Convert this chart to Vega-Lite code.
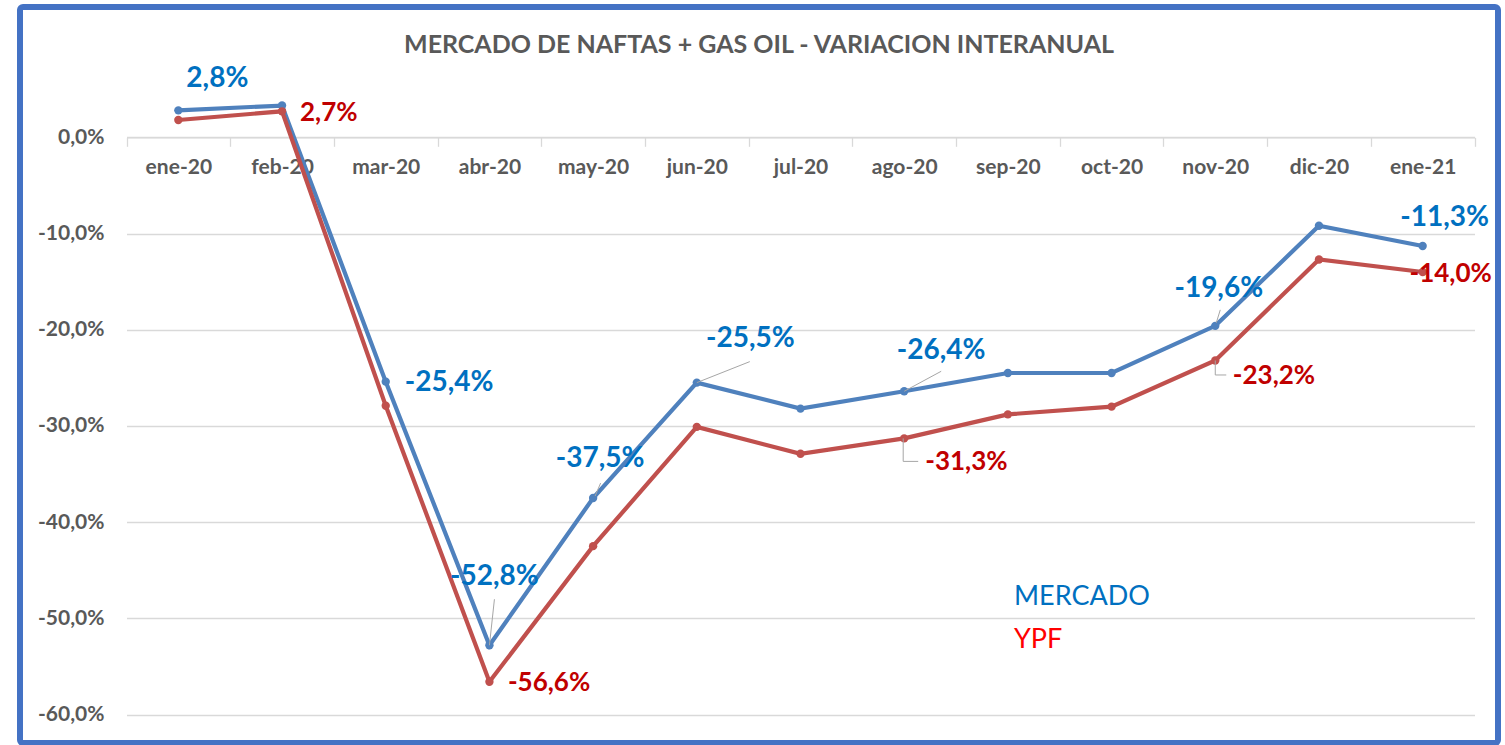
{
  "$schema": "https://vega.github.io/schema/vega-lite/v6.json",
  "width": 1478,
  "height": 736,
  "autosize": {"type": "none"},
  "padding": {"left": 20, "top": 7, "right": 7, "bottom": 2},
  "background": "white",
  "config": {
    "locale": {"number": {"decimal": ",", "thousands": ".", "grouping": [3], "currency": ["", " €"], "minus": "-", "percent": "%"}},
    "view": {"stroke": "#4472c4", "strokeWidth": 6, "fill": "white", "cornerRadius": 3},
    "legend": {"padding": 0}
  },
  "title": {
    "text": "MERCADO DE NAFTAS + GAS OIL - VARIACION INTERANUAL",
    "font": "Lato", "fontSize": 25, "fontWeight": "bold", "color": "#595959",
    "anchor": "middle", "frame": "group", "offset": -63, "baseline": "middle"
  },
  "data": {
    "values": [
      {"month": "ene-20", "series": "MERCADO", "value": 0.028},
      {"month": "feb-20", "series": "MERCADO", "value": 0.033},
      {"month": "mar-20", "series": "MERCADO", "value": -0.254},
      {"month": "abr-20", "series": "MERCADO", "value": -0.528},
      {"month": "may-20", "series": "MERCADO", "value": -0.375},
      {"month": "jun-20", "series": "MERCADO", "value": -0.255},
      {"month": "jul-20", "series": "MERCADO", "value": -0.282},
      {"month": "ago-20", "series": "MERCADO", "value": -0.264},
      {"month": "sep-20", "series": "MERCADO", "value": -0.245},
      {"month": "oct-20", "series": "MERCADO", "value": -0.245},
      {"month": "nov-20", "series": "MERCADO", "value": -0.196},
      {"month": "dic-20", "series": "MERCADO", "value": -0.092},
      {"month": "ene-21", "series": "MERCADO", "value": -0.113},
      {"month": "ene-20", "series": "YPF", "value": 0.018},
      {"month": "feb-20", "series": "YPF", "value": 0.027},
      {"month": "mar-20", "series": "YPF", "value": -0.279},
      {"month": "abr-20", "series": "YPF", "value": -0.566},
      {"month": "may-20", "series": "YPF", "value": -0.425},
      {"month": "jun-20", "series": "YPF", "value": -0.301},
      {"month": "jul-20", "series": "YPF", "value": -0.329},
      {"month": "ago-20", "series": "YPF", "value": -0.313},
      {"month": "sep-20", "series": "YPF", "value": -0.288},
      {"month": "oct-20", "series": "YPF", "value": -0.28},
      {"month": "nov-20", "series": "YPF", "value": -0.232},
      {"month": "dic-20", "series": "YPF", "value": -0.127},
      {"month": "ene-21", "series": "YPF", "value": -0.14}
    ]
  },
  "encoding": {
    "x": {
      "field": "month", "type": "nominal",
      "scale": {"type": "band", "domain": ["ene-20","feb-20","mar-20","abr-20","may-20","jun-20","jul-20","ago-20","sep-20","oct-20","nov-20","dic-20","ene-21"], "range": [106.5, 1454.5], "paddingInner": 0, "paddingOuter": 0},
      "axis": {
        "title": null, "orient": "bottom", "offset": -605.7, "labelAngle": 0,
        "labelFont": "Lato", "labelFontSize": 21, "labelFontWeight": "bold", "labelColor": "#595959",
        "labelBaseline": "middle", "labelPadding": 21,
        "tickBand": "extent", "tickSize": 9, "tickColor": "#d9d9d9", "tickWidth": 1.3,
        "domainColor": "#d9d9d9", "domainWidth": 1.3, "grid": false
      }
    },
    "y": {
      "field": "value", "type": "quantitative",
      "scale": {"domain": [-0.6, 0], "range": [707.5, 130.3], "nice": false, "zero": false},
      "axis": {
        "title": null, "values": [0, -0.1, -0.2, -0.3, -0.4, -0.5, -0.6], "format": ".1%",
        "offset": -106.5, "domain": false, "ticks": false, "tickSize": 0, "labelPadding": 22.5,
        "labelFont": "Lato", "labelFontSize": 21, "labelFontWeight": "bold", "labelColor": "#595959",
        "grid": true, "gridColor": "#d9d9d9", "gridWidth": 1.3
      }
    }
  },
  "layer": [
    {
      "mark": {"type": "line", "strokeWidth": 4.2, "point": {"size": 70, "filled": true, "opacity": 1}},
      "encoding": {
        "color": {
          "field": "series", "type": "nominal",
          "scale": {"domain": ["MERCADO", "YPF"], "range": ["#4f81bd", "#c0504d"]},
          "legend": {
            "orient": "none", "legendX": 967, "legendY": 576, "title": null, "direction": "vertical",
            "symbolOpacity": 0, "symbolSize": 0, "symbolStrokeWidth": 0,
            "labelFont": "Lato", "labelFontSize": 27, "labelLimit": 0, "labelOffset": 0, "rowPadding": 15.5,
            "encode": {"labels": {"update": {"fill": {"signal": "datum.label === 'MERCADO' ? '#0070c0' : '#ff0000'"}}}}
          }
        }
      }
    },
    {
      "transform": [{"filter": "datum.month === 'abr-20' && datum.series === 'MERCADO'"}],
      "mark": {"type": "rule", "color": "#a6a6a6", "strokeWidth": 1, "x2Offset": 5, "y2Offset": -46},
      "encoding": {"x2": {"field": "month"}, "y2": {"field": "value"}}
    },
    {
      "transform": [{"filter": "datum.month === 'may-20' && datum.series === 'MERCADO'"}],
      "mark": {"type": "rule", "color": "#a6a6a6", "strokeWidth": 1, "xOffset": 2, "yOffset": -2, "x2Offset": 7.5, "y2Offset": -15},
      "encoding": {"x2": {"field": "month"}, "y2": {"field": "value"}}
    },
    {
      "transform": [{"filter": "datum.month === 'jun-20' && datum.series === 'MERCADO'"}],
      "mark": {"type": "rule", "color": "#a6a6a6", "strokeWidth": 1, "x2Offset": 53, "y2Offset": -21},
      "encoding": {"x2": {"field": "month"}, "y2": {"field": "value"}}
    },
    {
      "transform": [{"filter": "datum.month === 'ago-20' && datum.series === 'MERCADO'"}],
      "mark": {"type": "rule", "color": "#a6a6a6", "strokeWidth": 1, "x2Offset": 37, "y2Offset": -20},
      "encoding": {"x2": {"field": "month"}, "y2": {"field": "value"}}
    },
    {
      "transform": [{"filter": "datum.month === 'nov-20' && datum.series === 'MERCADO'"}],
      "mark": {"type": "rule", "color": "#a6a6a6", "strokeWidth": 1, "xOffset": 1, "yOffset": -3, "x2Offset": 5, "y2Offset": -16},
      "encoding": {"x2": {"field": "month"}, "y2": {"field": "value"}}
    },
    {
      "transform": [{"filter": "datum.month === 'ago-20' && datum.series === 'YPF'"}],
      "mark": {"type": "rule", "color": "#a6a6a6", "strokeWidth": 1, "xOffset": -1, "y2Offset": 23},
      "encoding": {"y2": {"field": "value"}}
    },
    {
      "transform": [{"filter": "datum.month === 'ago-20' && datum.series === 'YPF'"}],
      "mark": {"type": "rule", "color": "#a6a6a6", "strokeWidth": 1, "xOffset": -1, "x2Offset": 14, "yOffset": 23},
      "encoding": {"x2": {"field": "month"}}
    },
    {
      "transform": [{"filter": "datum.month === 'nov-20' && datum.series === 'YPF'"}],
      "mark": {"type": "rule", "color": "#a6a6a6", "strokeWidth": 1, "y2Offset": 14.5},
      "encoding": {"y2": {"field": "value"}}
    },
    {
      "transform": [{"filter": "datum.month === 'nov-20' && datum.series === 'YPF'"}],
      "mark": {"type": "rule", "color": "#a6a6a6", "strokeWidth": 1, "x2Offset": 11, "yOffset": 14.5},
      "encoding": {"x2": {"field": "month"}}
    },
    {
      "transform": [{"filter": "datum.month === 'ene-20' && datum.series === 'MERCADO'"}],
      "mark": {"type": "text", "align": "center", "baseline": "middle", "dx": 39, "dy": -31, "font": "Lato", "fontSize": 28, "fontWeight": "bold", "color": "#0070c0"},
      "encoding": {"text": {"field": "value", "type": "quantitative", "format": ".1%"}}
    },
    {
      "transform": [{"filter": "datum.month === 'mar-20' && datum.series === 'MERCADO'"}],
      "mark": {"type": "text", "align": "left", "baseline": "middle", "dx": 19, "dy": 1.5, "font": "Lato", "fontSize": 28, "fontWeight": "bold", "color": "#0070c0"},
      "encoding": {"text": {"field": "value", "type": "quantitative", "format": ".1%"}}
    },
    {
      "transform": [{"filter": "datum.month === 'abr-20' && datum.series === 'MERCADO'"}],
      "mark": {"type": "text", "align": "center", "baseline": "middle", "dx": 5, "dy": -68, "font": "Lato", "fontSize": 28, "fontWeight": "bold", "color": "#0070c0"},
      "encoding": {"text": {"field": "value", "type": "quantitative", "format": ".1%"}}
    },
    {
      "transform": [{"filter": "datum.month === 'may-20' && datum.series === 'MERCADO'"}],
      "mark": {"type": "text", "align": "center", "baseline": "middle", "dx": 7, "dy": -39, "font": "Lato", "fontSize": 28, "fontWeight": "bold", "color": "#0070c0"},
      "encoding": {"text": {"field": "value", "type": "quantitative", "format": ".1%"}}
    },
    {
      "transform": [{"filter": "datum.month === 'jun-20' && datum.series === 'MERCADO'"}],
      "mark": {"type": "text", "align": "center", "baseline": "middle", "dx": 53.5, "dy": -44, "font": "Lato", "fontSize": 28, "fontWeight": "bold", "color": "#0070c0"},
      "encoding": {"text": {"field": "value", "type": "quantitative", "format": ".1%"}}
    },
    {
      "transform": [{"filter": "datum.month === 'ago-20' && datum.series === 'MERCADO'"}],
      "mark": {"type": "text", "align": "center", "baseline": "middle", "dx": 37, "dy": -40, "font": "Lato", "fontSize": 28, "fontWeight": "bold", "color": "#0070c0"},
      "encoding": {"text": {"field": "value", "type": "quantitative", "format": ".1%"}}
    },
    {
      "transform": [{"filter": "datum.month === 'nov-20' && datum.series === 'MERCADO'"}],
      "mark": {"type": "text", "align": "center", "baseline": "middle", "dx": 3.5, "dy": -37, "font": "Lato", "fontSize": 28, "fontWeight": "bold", "color": "#0070c0"},
      "encoding": {"text": {"field": "value", "type": "quantitative", "format": ".1%"}}
    },
    {
      "transform": [{"filter": "datum.month === 'ene-21' && datum.series === 'MERCADO'"}],
      "mark": {"type": "text", "align": "center", "baseline": "middle", "dx": 22, "dy": -28.5, "font": "Lato", "fontSize": 28, "fontWeight": "bold", "color": "#0070c0"},
      "encoding": {"text": {"field": "value", "type": "quantitative", "format": ".1%"}}
    },
    {
      "transform": [{"filter": "datum.month === 'feb-20' && datum.series === 'YPF'"}],
      "mark": {"type": "text", "align": "left", "baseline": "middle", "dx": 18, "dy": 2, "font": "Lato", "fontSize": 26, "fontWeight": "bold", "color": "#c00000"},
      "encoding": {"text": {"field": "value", "type": "quantitative", "format": ".1%"}}
    },
    {
      "transform": [{"filter": "datum.month === 'abr-20' && datum.series === 'YPF'"}],
      "mark": {"type": "text", "align": "left", "baseline": "middle", "dx": 18.5, "dy": 1, "font": "Lato", "fontSize": 26, "fontWeight": "bold", "color": "#c00000"},
      "encoding": {"text": {"field": "value", "type": "quantitative", "format": ".1%"}}
    },
    {
      "transform": [{"filter": "datum.month === 'ago-20' && datum.series === 'YPF'"}],
      "mark": {"type": "text", "align": "left", "baseline": "middle", "dx": 21, "dy": 24, "font": "Lato", "fontSize": 26, "fontWeight": "bold", "color": "#c00000"},
      "encoding": {"text": {"field": "value", "type": "quantitative", "format": ".1%"}}
    },
    {
      "transform": [{"filter": "datum.month === 'nov-20' && datum.series === 'YPF'"}],
      "mark": {"type": "text", "align": "left", "baseline": "middle", "dx": 17.5, "dy": 15.5, "font": "Lato", "fontSize": 26, "fontWeight": "bold", "color": "#c00000"},
      "encoding": {"text": {"field": "value", "type": "quantitative", "format": ".1%"}}
    },
    {
      "transform": [{"filter": "datum.month === 'ene-21' && datum.series === 'YPF'"}],
      "mark": {"type": "text", "align": "center", "baseline": "middle", "dx": 28, "dy": 2, "font": "Lato", "fontSize": 26, "fontWeight": "bold", "color": "#c00000"},
      "encoding": {"text": {"field": "value", "type": "quantitative", "format": ".1%"}}
    }
  ]
}
